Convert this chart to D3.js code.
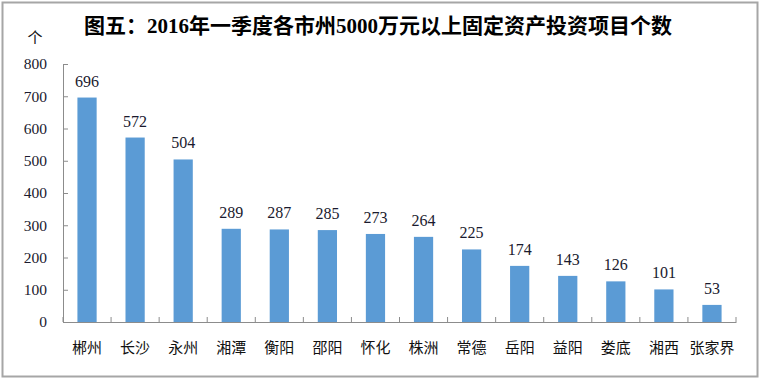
<!DOCTYPE html>
<html><head><meta charset="utf-8">
<script src="https://cdn.jsdelivr.net/npm/d3@7"></script>
<style>html,body{margin:0;padding:0;background:#fff;}svg{display:block;}</style>
</head><body>
<svg id="chart" width="760" height="381"></svg>
<script>
const categories = ["郴州","长沙","永州","湘潭","衡阳","邵阳","怀化","株洲","常德","岳阳","益阳","娄底","湘西","张家界"];
const values = [696,572,504,289,287,285,273,264,225,174,143,126,101,53];
const yTicks = [0,100,200,300,400,500,600,700,800];
const titleText = "图五：2016年一季度各市州5000万元以上固定资产投资项目个数";
const unitText = "个";

const svg = d3.select("#chart");
svg.append("rect").attr("x",2.5).attr("y",2.5).attr("width",755).attr("height",374)
  .attr("fill","#fff").attr("stroke","#a6a6a6").attr("stroke-width",2);

const x = d3.scaleBand().domain(categories).range([63,736]).paddingInner(0.6).paddingOuter(0.3);
const y = d3.scaleLinear().domain([0,800]).range([322,64]);

// bars
svg.selectAll("rect.bar").data(values).enter().append("rect").attr("class","bar")
  .attr("x",(d,i)=>x(categories[i]))
  .attr("width",x.bandwidth())
  .attr("y",d=>y(d))
  .attr("height",d=>y(0)-y(d))
  .attr("fill","#5b9bd5");

// y axis
const yAxis = d3.axisLeft(y).tickValues(yTicks).tickSizeInner(-5).tickSizeOuter(-5).tickPadding(16);
const gy = svg.append("g").attr("transform","translate(63,0)").call(yAxis);
gy.selectAll("path,line").attr("stroke","#8c8c8c");
gy.selectAll("text").attr("font-family","'Liberation Serif','Times New Roman',serif")
  .attr("font-size",15.5).attr("fill","#1a1a2e");

// x axis
const xAxis = d3.axisBottom(x).tickSize(0).tickPadding(20);
const gx = svg.append("g").attr("transform","translate(0,322)").call(xAxis);
gx.select("path").attr("stroke","#8c8c8c");
gx.selectAll("text").attr("font-family","'Noto Sans CJK SC',sans-serif")
  .attr("font-size",15).attr("fill","#111");
// boundary ticks (inside)
const bounds = d3.range(categories.length+1).map(i=>63 + i*(736-63)/categories.length);
svg.append("g").selectAll("line").data(bounds).enter().append("line")
  .attr("x1",d=>d).attr("x2",d=>d).attr("y1",322).attr("y2",317)
  .attr("stroke","#8c8c8c");

// value labels
svg.append("g").selectAll("text").data(values).enter().append("text")
  .attr("x",(d,i)=>x(categories[i])+x.bandwidth()/2)
  .attr("y",d=>y(d)-11)
  .attr("text-anchor","middle")
  .attr("font-family","'Liberation Serif','Times New Roman',serif")
  .attr("font-size",16).attr("fill","#1a1a2e")
  .text(d=>d);

// title
svg.append("text").attr("x",378).attr("y",33).attr("text-anchor","middle")
  .attr("font-family","'Liberation Serif','Noto Sans CJK SC',serif")
  .attr("font-weight","bold").attr("font-size",21).attr("fill","#000")
  .text(titleText);

// unit
svg.append("text").attr("x",35).attr("y",43).attr("text-anchor","middle")
  .attr("font-family","'Noto Sans CJK SC',sans-serif")
  .attr("font-size",15).attr("fill","#111").text(unitText);
</script>
</body></html>
